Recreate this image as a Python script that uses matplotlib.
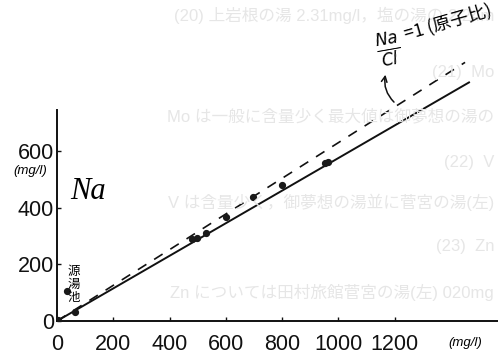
import matplotlib.pyplot as plt

plt.rcParams['font.family'] = ['Liberation Sans', 'Noto Sans CJK JP', 'DejaVu Sans']

# Cl and Na of the sampled springs (mg/l)
cl = [5, 35, 64, 480, 497, 529, 600, 696, 799, 952, 963]
na = [3, 105, 32, 289, 293, 310, 367, 437, 480, 557, 561]

# fitted line and the Na/Cl = 1 (atomic ratio) line, end points in mg/l
fit_x = [0, 1467]
fit_y = [0, 843]
ratio_x = [0, 1450]
ratio_y = [0, 912]

x_ticks = [0, 200, 400, 600, 800, 1000, 1200]
y_ticks = [0, 200, 400, 600]

W, H = 498, 361


def fp(x, y):
    # pixel position (from top-left) -> figure fraction
    return x / W, 1 - y / H


fig = plt.figure(figsize=(W / 100, H / 100), dpi=100)

# text from the other side of the page showing through
ghost = [
    ("(20) 上岩根の湯 2.31mg/l，塩の湯の 2.24m", 15),
    ("(21)  Mo", 72),
    ("Mo は一般に含量少く最大値は御夢想の湯の", 116),
    ("(22)  V", 163),
    ("V は含量少く，御夢想の湯並に菅宮の湯(左)", 202),
    ("(23)  Zn", 247),
    ("Zn については田村旅館菅宮の湯(左) 020mg", 292),
]
for txt, gy in ghost:
    fig.text(*fp(494, gy), txt, fontsize=12, color='#e6e6e6',
             va='center', ha='right', zorder=0)

ax = fig.add_axes([57 / W, 40 / H, 441 / W, 211 / H])
ax.patch.set_alpha(0)
ax.set_xlim(0, 1567)
ax.set_ylim(0, 744)

for side in ['top', 'right']:
    ax.spines[side].set_visible(False)
for side in ['left', 'bottom']:
    ax.spines[side].set_linewidth(1.4)
    ax.spines[side].set_color('#111111')

ax.set_xticks(x_ticks)
ax.set_yticks(y_ticks)
ax.tick_params(direction='in', length=3, width=1, colors='#111111',
               labelsize=15.5)
ax.tick_params(axis='x', pad=9)
ax.tick_params(axis='y', pad=2)

ax.plot(fit_x, fit_y, color='#111111', lw=1.4, solid_capstyle='butt',
        clip_on=False)
ax.plot(ratio_x, ratio_y, color='#111111', lw=1.2, dashes=(6, 5.5),
        clip_on=False)
ax.plot(cl, na, 'o', color='#1a1a1a', ms=4.2, zorder=3)

# axis units and annotations
fig.text(*fp(30, 171), "(mg/l)", fontsize=9.5, ha='center', va='center',
         style='italic')
fig.text(*fp(465, 343), "(mg/l)", fontsize=9.5, ha='center', va='center',
         style='italic')
fig.text(*fp(88, 191), "Na", fontsize=22, ha='center', va='center',
         family='Liberation Serif', style='italic')
fig.text(*fp(74, 284), "源\n湯\n池", fontsize=9, ha='center', va='center',
         family=['Noto Sans CJK JP'], linespacing=1.0)

fig.text(*fp(389, 50), r"$\frac{Na}{Cl}$", fontsize=17, ha='center',
         va='center', rotation=10)
fig.text(*fp(448, 22), "=1 (原子比)", fontsize=13, ha='center',
         va='center', rotation=16, family=['Noto Sans CJK JP', 'DejaVu Sans'])
ax.annotate("", xy=fp(386, 72), xycoords='figure fraction',
            xytext=fp(396, 104), textcoords='figure fraction',
            arrowprops=dict(arrowstyle='->', color='#111111', lw=1.1,
                            connectionstyle='arc3,rad=-0.3'))

fig.savefig("out.png", dpi=100)
